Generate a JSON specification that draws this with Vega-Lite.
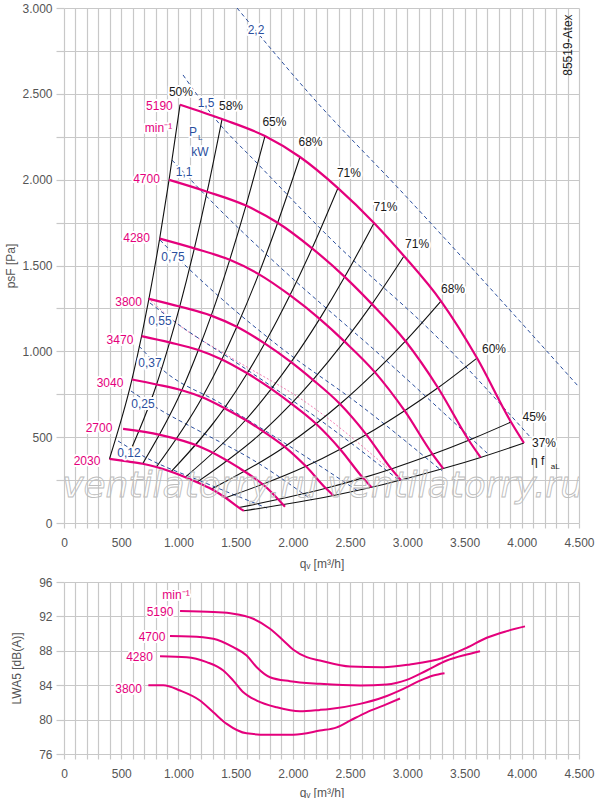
{
  "$schema": "https://vega.github.io/schema/vega-lite/v6.json",
  "background": "white",
  "padding": {"left": 4, "top": 2, "right": 0, "bottom": 0},
  "spacing": 7,
  "datasets": {
    "speeds": [
      {"n": 5190, "i": 0, "q": 1014, "p": 2437}, {"n": 5190, "i": 1, "q": 1381, "p": 2353}, {"n": 5190, "i": 2, "q": 1756, "p": 2254}, {"n": 5190, "i": 3, "q": 2062, "p": 2132}, {"n": 5190, "i": 4, "q": 2394, "p": 1951}, {"n": 5190, "i": 5, "q": 2709, "p": 1748}, {"n": 5190, "i": 6, "q": 2971, "p": 1555}, {"n": 5190, "i": 7, "q": 3294, "p": 1293}, {"n": 5190, "i": 8, "q": 3609, "p": 961}, {"n": 5190, "i": 9, "q": 3906, "p": 588}, {"n": 5190, "i": 10, "q": 4019, "p": 466},
      {"n": 4700, "i": 0, "q": 918, "p": 1999}, {"n": 4700, "i": 1, "q": 1251, "p": 1930}, {"n": 4700, "i": 2, "q": 1590, "p": 1849}, {"n": 4700, "i": 3, "q": 1867, "p": 1749}, {"n": 4700, "i": 4, "q": 2168, "p": 1600}, {"n": 4700, "i": 5, "q": 2453, "p": 1434}, {"n": 4700, "i": 6, "q": 2691, "p": 1275}, {"n": 4700, "i": 7, "q": 2983, "p": 1060}, {"n": 4700, "i": 8, "q": 3268, "p": 788}, {"n": 4700, "i": 9, "q": 3537, "p": 482}, {"n": 4700, "i": 10, "q": 3640, "p": 382},
      {"n": 4280, "i": 0, "q": 836, "p": 1657}, {"n": 4280, "i": 1, "q": 1139, "p": 1600}, {"n": 4280, "i": 2, "q": 1448, "p": 1533}, {"n": 4280, "i": 3, "q": 1701, "p": 1450}, {"n": 4280, "i": 4, "q": 1974, "p": 1327}, {"n": 4280, "i": 5, "q": 2234, "p": 1189}, {"n": 4280, "i": 6, "q": 2450, "p": 1058}, {"n": 4280, "i": 7, "q": 2716, "p": 879}, {"n": 4280, "i": 8, "q": 2976, "p": 654}, {"n": 4280, "i": 9, "q": 3221, "p": 400}, {"n": 4280, "i": 10, "q": 3314, "p": 317},
      {"n": 3800, "i": 0, "q": 742, "p": 1306}, {"n": 3800, "i": 1, "q": 1011, "p": 1261}, {"n": 3800, "i": 2, "q": 1286, "p": 1208}, {"n": 3800, "i": 3, "q": 1510, "p": 1143}, {"n": 3800, "i": 4, "q": 1753, "p": 1046}, {"n": 3800, "i": 5, "q": 1984, "p": 937}, {"n": 3800, "i": 6, "q": 2175, "p": 834}, {"n": 3800, "i": 7, "q": 2412, "p": 693}, {"n": 3800, "i": 8, "q": 2642, "p": 515}, {"n": 3800, "i": 9, "q": 2860, "p": 315}, {"n": 3800, "i": 10, "q": 2943, "p": 250},
      {"n": 3470, "i": 0, "q": 678, "p": 1089}, {"n": 3470, "i": 1, "q": 923, "p": 1052}, {"n": 3470, "i": 2, "q": 1174, "p": 1008}, {"n": 3470, "i": 3, "q": 1379, "p": 953}, {"n": 3470, "i": 4, "q": 1601, "p": 872}, {"n": 3470, "i": 5, "q": 1811, "p": 781}, {"n": 3470, "i": 6, "q": 1986, "p": 695}, {"n": 3470, "i": 7, "q": 2202, "p": 578}, {"n": 3470, "i": 8, "q": 2413, "p": 430}, {"n": 3470, "i": 9, "q": 2612, "p": 263}, {"n": 3470, "i": 10, "q": 2687, "p": 208},
      {"n": 3040, "i": 0, "q": 594, "p": 836}, {"n": 3040, "i": 1, "q": 809, "p": 807}, {"n": 3040, "i": 2, "q": 1029, "p": 773}, {"n": 3040, "i": 3, "q": 1208, "p": 732}, {"n": 3040, "i": 4, "q": 1402, "p": 669}, {"n": 3040, "i": 5, "q": 1587, "p": 600}, {"n": 3040, "i": 6, "q": 1740, "p": 534}, {"n": 3040, "i": 7, "q": 1929, "p": 444}, {"n": 3040, "i": 8, "q": 2114, "p": 330}, {"n": 3040, "i": 9, "q": 2288, "p": 202}, {"n": 3040, "i": 10, "q": 2354, "p": 160},
      {"n": 2030, "i": 0, "q": 397, "p": 373}, {"n": 2030, "i": 1, "q": 540, "p": 360}, {"n": 2030, "i": 2, "q": 687, "p": 345}, {"n": 2030, "i": 3, "q": 807, "p": 326}, {"n": 2030, "i": 4, "q": 936, "p": 299}, {"n": 2030, "i": 5, "q": 1060, "p": 267}, {"n": 2030, "i": 6, "q": 1162, "p": 238}, {"n": 2030, "i": 7, "q": 1288, "p": 198}, {"n": 2030, "i": 8, "q": 1412, "p": 147}, {"n": 2030, "i": 9, "q": 1528, "p": 90}, {"n": 2030, "i": 10, "q": 1572, "p": 71}
    ],
    "s2700": [
      {"n": 2700, "q": 516, "p": 548}, {"n": 2700, "q": 839, "p": 513}, {"n": 2700, "q": 1188, "p": 444}, {"n": 2700, "q": 1512, "p": 328}, {"n": 2700, "q": 1774, "p": 204}, {"n": 2700, "q": 1931, "p": 95}
    ],
    "power": [
      {"kw": "2,2", "q": 1512, "p": 3000}, {"kw": "2,2", "q": 2193, "p": 2464}, {"kw": "2,2", "q": 2936, "p": 1940}, {"kw": "2,2", "q": 4500, "p": 792},
      {"kw": "1,5", "q": 1040, "p": 2610}, {"kw": "1,5", "q": 1337, "p": 2342}, {"kw": "1,5", "q": 1686, "p": 2097}, {"kw": "1,5", "q": 2324, "p": 1660}, {"kw": "1,5", "q": 3285, "p": 1066}, {"kw": "1,5", "q": 4098, "p": 483},
      {"kw": "1,1", "q": 944, "p": 2114}, {"kw": "1,1", "q": 1337, "p": 1841}, {"kw": "1,1", "q": 1887, "p": 1491}, {"kw": "1,1", "q": 2761, "p": 979}, {"kw": "1,1", "q": 3696, "p": 408},
      {"kw": "0,75", "q": 839, "p": 1648}, {"kw": "0,75", "q": 1075, "p": 1491}, {"kw": "0,75", "q": 1389, "p": 1299}, {"kw": "0,75", "q": 1887, "p": 1025}, {"kw": "0,75", "q": 2586, "p": 687}, {"kw": "0,75", "q": 3303, "p": 303},
      {"kw": "0,55", "q": 751, "p": 1282}, {"kw": "0,55", "q": 970, "p": 1171}, {"kw": "0,55", "q": 1538, "p": 920}, {"kw": "0,55", "q": 2237, "p": 600}, {"kw": "0,55", "q": 2936, "p": 245},
      {"kw": "0,37", "q": 655, "p": 1031}, {"kw": "0,37", "q": 865, "p": 891}, {"kw": "0,37", "q": 1363, "p": 699}, {"kw": "0,37", "q": 1887, "p": 483}, {"kw": "0,37", "q": 2569, "p": 186},
      {"kw": "0,25", "q": 585, "p": 769}, {"kw": "0,25", "q": 813, "p": 670}, {"kw": "0,25", "q": 1215, "p": 524}, {"kw": "0,25", "q": 1652, "p": 367}, {"kw": "0,25", "q": 2167, "p": 134},
      {"kw": "0,12", "q": 472, "p": 478}, {"kw": "0,12", "q": 708, "p": 384}, {"kw": "0,12", "q": 1215, "p": 239}, {"kw": "0,12", "q": 1774, "p": 87}
    ],
    "limit": [
      {"q": 734, "p": 1311}, {"q": 970, "p": 1171}, {"q": 1451, "p": 967}, {"q": 2123, "p": 699}, {"q": 2849, "p": 309}
    ],
    "labels": [
      {"kind": "speed", "t": "5190", "q": 834, "p": 2429},
      {"kind": "speed", "t": "min⁻¹", "q": 826, "p": 2301},
      {"kind": "speed", "t": "4700", "q": 721, "p": 2004},
      {"kind": "speed", "t": "4280", "q": 634, "p": 1660},
      {"kind": "speed", "t": "3800", "q": 564, "p": 1287},
      {"kind": "speed", "t": "3470", "q": 489, "p": 1066},
      {"kind": "speed", "t": "3040", "q": 402, "p": 816},
      {"kind": "speed", "t": "2700", "q": 306, "p": 553},
      {"kind": "speed", "t": "2030", "q": 201, "p": 361},
      {"kind": "eff", "t": "50%", "q": 1022, "p": 2511},
      {"kind": "eff", "t": "58%", "q": 1459, "p": 2429},
      {"kind": "eff", "t": "65%", "q": 1839, "p": 2336},
      {"kind": "eff", "t": "68%", "q": 2154, "p": 2220},
      {"kind": "eff", "t": "71%", "q": 2490, "p": 2039},
      {"kind": "eff", "t": "71%", "q": 2809, "p": 1841},
      {"kind": "eff", "t": "71%", "q": 3085, "p": 1625},
      {"kind": "eff", "t": "68%", "q": 3399, "p": 1363},
      {"kind": "eff", "t": "60%", "q": 3757, "p": 1014},
      {"kind": "eff", "t": "45%", "q": 4111, "p": 617},
      {"kind": "eff", "t": "37%", "q": 4194, "p": 466},
      {"kind": "power", "t": "2,2", "q": 1678, "p": 2872},
      {"kind": "power", "t": "1,5", "q": 1241, "p": 2447},
      {"kind": "power", "t": "1,1", "q": 1049, "p": 2045},
      {"kind": "power", "t": "0,75", "q": 952, "p": 1549},
      {"kind": "power", "t": "0,55", "q": 839, "p": 1177},
      {"kind": "power", "t": "0,37", "q": 751, "p": 932},
      {"kind": "power", "t": "0,25", "q": 690, "p": 693},
      {"kind": "power", "t": "0,12", "q": 568, "p": 408},
      {"kind": "power", "t": "P", "q": 1127, "p": 2278},
      {"kind": "power", "t": "kW", "q": 1188, "p": 2161}
    ],
    "small": [
      {"kind": "power", "t": "L", "q": 1190, "p": 2244},
      {"kind": "eff", "t": "aL", "q": 4292, "p": 326}
    ],
    "etaf": [
      {"t": "η f", "q": 4080, "p": 361}
    ],
    "code": [
      {"t": "85519-Atex", "q": 4404, "p": 2784}
    ],
    "watermark": [
      {"t": "ventilatorry.ru", "q": 1101, "p": 216},
      {"t": "ventilatorry.ru", "q": 3417, "p": 216}
    ],
    "noise": [
      {"n": 5190, "q": 1014, "L": 92.62}, {"n": 5190, "q": 1305, "L": 92.5}, {"n": 5190, "q": 1479, "L": 92.32}, {"n": 5190, "q": 1654, "L": 91.73}, {"n": 5190, "q": 1800, "L": 90.57}, {"n": 5190, "q": 1916, "L": 89.21}, {"n": 5190, "q": 2004, "L": 88.12}, {"n": 5190, "q": 2121, "L": 87.26}, {"n": 5190, "q": 2237, "L": 86.87}, {"n": 5190, "q": 2499, "L": 86.17}, {"n": 5190, "q": 2790, "L": 86.09}, {"n": 5190, "q": 3023, "L": 86.41}, {"n": 5190, "q": 3314, "L": 87.19}, {"n": 5190, "q": 3519, "L": 88.35}, {"n": 5190, "q": 3694, "L": 89.52}, {"n": 5190, "q": 3868, "L": 90.29}, {"n": 5190, "q": 4028, "L": 90.84},
      {"n": 4700, "q": 926, "L": 89.71}, {"n": 4700, "q": 1101, "L": 89.67}, {"n": 4700, "q": 1305, "L": 89.4}, {"n": 4700, "q": 1479, "L": 88.42}, {"n": 4700, "q": 1596, "L": 87.46}, {"n": 4700, "q": 1684, "L": 86.09}, {"n": 4700, "q": 1800, "L": 84.93}, {"n": 4700, "q": 1975, "L": 84.46}, {"n": 4700, "q": 2237, "L": 84.16}, {"n": 4700, "q": 2587, "L": 83.96}, {"n": 4700, "q": 2820, "L": 84.08}, {"n": 4700, "q": 2995, "L": 84.62}, {"n": 4700, "q": 3169, "L": 85.71}, {"n": 4700, "q": 3344, "L": 86.87}, {"n": 4700, "q": 3519, "L": 87.57}, {"n": 4700, "q": 3635, "L": 87.96},
      {"n": 4280, "q": 839, "L": 87.38}, {"n": 4280, "q": 1072, "L": 87.26}, {"n": 4280, "q": 1247, "L": 86.68}, {"n": 4280, "q": 1392, "L": 85.71}, {"n": 4280, "q": 1479, "L": 84.54}, {"n": 4280, "q": 1567, "L": 83.18}, {"n": 4280, "q": 1684, "L": 82.21}, {"n": 4280, "q": 1859, "L": 81.43}, {"n": 4280, "q": 2062, "L": 80.97}, {"n": 4280, "q": 2237, "L": 81.13}, {"n": 4280, "q": 2324, "L": 81.24}, {"n": 4280, "q": 2587, "L": 81.83}, {"n": 4280, "q": 2790, "L": 82.6}, {"n": 4280, "q": 2965, "L": 83.58}, {"n": 4280, "q": 3111, "L": 84.54}, {"n": 4280, "q": 3227, "L": 85.13}, {"n": 4280, "q": 3325, "L": 85.4},
      {"n": 3800, "q": 737, "L": 84.0}, {"n": 3800, "q": 868, "L": 84.0}, {"n": 3800, "q": 1014, "L": 83.38}, {"n": 3800, "q": 1188, "L": 82.22}, {"n": 3800, "q": 1305, "L": 80.85}, {"n": 3800, "q": 1422, "L": 79.5}, {"n": 3800, "q": 1596, "L": 78.4}, {"n": 3800, "q": 1771, "L": 78.25}, {"n": 3800, "q": 2004, "L": 78.25}, {"n": 3800, "q": 2237, "L": 78.72}, {"n": 3800, "q": 2383, "L": 79.1}, {"n": 3800, "q": 2499, "L": 79.88}, {"n": 3800, "q": 2645, "L": 80.85}, {"n": 3800, "q": 2790, "L": 81.63}, {"n": 3800, "q": 2936, "L": 82.45}
    ],
    "noiseLabels": [
      {"t": "min⁻¹", "q": 979, "L": 94.45},
      {"t": "5190", "q": 839, "L": 92.54},
      {"t": "4700", "q": 769, "L": 89.59},
      {"t": "4280", "q": 660, "L": 87.26},
      {"t": "3800", "q": 564, "L": 83.58}
    ]
  },
  "vconcat": [
    {
      "width": 515,
      "height": 515,
      "encoding": {
        "x": {
          "field": "q", "type": "quantitative",
          "scale": {"domain": [0, 4500], "nice": false, "zero": false},
          "axis": {
            "title": "qᵥ [m³/h]",
            "titlePadding": 10,
            "values": [0,100,200,300,400,500,600,700,800,900,1000,1100,1200,1300,1400,1500,1600,1700,1800,1900,2000,2100,2200,2300,2400,2500,2600,2700,2800,2900,3000,3100,3200,3300,3400,3500,3600,3700,3800,3900,4000,4100,4200,4300,4400,4500],
            "labelExpr": "datum.value % 500 === 0 ? replace(format(datum.value, ','), ',', '.') : ''"
          }
        },
        "y": {
          "field": "p", "type": "quantitative",
          "scale": {"domain": [0, 3000], "nice": false, "zero": false},
          "axis": {
            "title": "psF [Pa]",
            "values": [0,250,500,750,1000,1250,1500,1750,2000,2250,2500,2750,3000],
            "labelExpr": "datum.value % 500 === 0 ? replace(format(datum.value, ','), ',', '.') : ''"
          }
        }
      },
      "layer": [
        {
          "data": {"name": "limit"},
          "mark": {"type": "line", "color": "#f06eaa", "strokeWidth": 0.9, "strokeDash": [2, 2], "interpolate": "monotone"}
        },
        {
          "data": {"name": "power"},
          "mark": {"type": "line", "color": "#2b4f9e", "strokeWidth": 1, "strokeDash": [4, 3], "interpolate": "monotone", "clip": true},
          "encoding": {"detail": {"field": "kw"}}
        },
        {
          "data": {"name": "speeds"},
          "mark": {"type": "line", "color": "#111111", "strokeWidth": 1.1, "interpolate": "monotone"},
          "encoding": {"detail": {"field": "i"}}
        },
        {
          "data": {"name": "speeds"},
          "mark": {"type": "line", "color": "#e4007c", "strokeWidth": 2.2, "interpolate": "monotone"},
          "encoding": {"detail": {"field": "n"}}
        },
        {
          "data": {"name": "s2700"},
          "mark": {"type": "line", "color": "#e4007c", "strokeWidth": 2.2, "interpolate": "monotone"}
        },
        {
          "data": {"name": "watermark"},
          "mark": {"type": "text", "font": "DejaVu Sans", "fontSize": 36, "fontStyle": "italic", "fillOpacity": 0, "stroke": "#bdbdbd", "strokeWidth": 0.9, "clip": true},
          "encoding": {"text": {"field": "t"}}
        },
        {
          "data": {"name": "labels"},
          "mark": {"type": "text", "font": "Liberation Sans", "fontSize": 12, "fill": "white", "stroke": "white", "strokeWidth": 4, "strokeJoin": "round"},
          "encoding": {"text": {"field": "t"}}
        },
        {
          "data": {"name": "labels"},
          "mark": {"type": "text", "font": "Liberation Sans", "fontSize": 12},
          "encoding": {
            "text": {"field": "t"},
            "color": {"field": "kind", "type": "nominal", "scale": {"domain": ["speed", "eff", "power"], "range": ["#e4007c", "#1a1a1a", "#2b4f9e"]}, "legend": null}
          }
        },
        {
          "data": {"name": "small"},
          "mark": {"type": "text", "font": "Liberation Sans", "fontSize": 8},
          "encoding": {
            "text": {"field": "t"},
            "color": {"field": "kind", "type": "nominal", "scale": {"domain": ["speed", "eff", "power"], "range": ["#e4007c", "#1a1a1a", "#2b4f9e"]}, "legend": null}
          }
        },
        {
          "data": {"name": "etaf"},
          "mark": {"type": "text", "font": "Liberation Sans", "fontSize": 12, "align": "left", "color": "#1a1a1a"},
          "encoding": {"text": {"field": "t"}}
        },
        {
          "data": {"name": "code"},
          "mark": {"type": "text", "font": "Liberation Sans", "fontSize": 12, "angle": 270, "color": "#1a1a1a"},
          "encoding": {"text": {"field": "t"}}
        }
      ]
    },
    {
      "width": 515,
      "height": 172,
      "encoding": {
        "x": {
          "field": "q", "type": "quantitative",
          "scale": {"domain": [0, 4500], "nice": false, "zero": false},
          "axis": {
            "title": "qᵥ [m³/h]",
            "values": [0,100,200,300,400,500,600,700,800,900,1000,1100,1200,1300,1400,1500,1600,1700,1800,1900,2000,2100,2200,2300,2400,2500,2600,2700,2800,2900,3000,3100,3200,3300,3400,3500,3600,3700,3800,3900,4000,4100,4200,4300,4400,4500],
            "labelExpr": "datum.value % 500 === 0 ? replace(format(datum.value, ','), ',', '.') : ''"
          }
        },
        "y": {
          "field": "L", "type": "quantitative",
          "scale": {"domain": [76, 96], "nice": false, "zero": false},
          "axis": {"title": "LWA5 [dB(A)]", "values": [76, 80, 84, 88, 92, 96], "titlePadding": 15}
        }
      },
      "layer": [
        {
          "data": {"name": "noise"},
          "mark": {"type": "line", "color": "#e4007c", "strokeWidth": 2, "interpolate": "monotone"},
          "encoding": {"detail": {"field": "n"}}
        },
        {
          "data": {"name": "noiseLabels"},
          "mark": {"type": "text", "font": "Liberation Sans", "fontSize": 12, "fill": "white", "stroke": "white", "strokeWidth": 4, "strokeJoin": "round"},
          "encoding": {"text": {"field": "t"}}
        },
        {
          "data": {"name": "noiseLabels"},
          "mark": {"type": "text", "font": "Liberation Sans", "fontSize": 12, "color": "#e4007c"},
          "encoding": {"text": {"field": "t"}}
        }
      ]
    }
  ],
  "config": {
    "view": {"stroke": null},
    "font": "Liberation Sans",
    "axis": {
      "domain": false,
      "grid": true,
      "gridColor": "#c8c8c8",
      "gridWidth": 1.2,
      "tickColor": "#c8c8c8",
      "tickWidth": 1.2,
      "labelFont": "Liberation Sans",
      "labelFontSize": 12,
      "labelColor": "#555555",
      "labelOverlap": false,
      "labelFlush": false,
      "labelBound": false,
      "titleFont": "Liberation Sans",
      "titleFontSize": 12,
      "titleFontWeight": "normal",
      "titleColor": "#555555"
    },
    "axisX": {"tickSize": 5, "labelPadding": 9, "titlePadding": 8},
    "axisY": {"tickSize": 8, "labelPadding": 4, "titlePadding": 4}
  }
}
